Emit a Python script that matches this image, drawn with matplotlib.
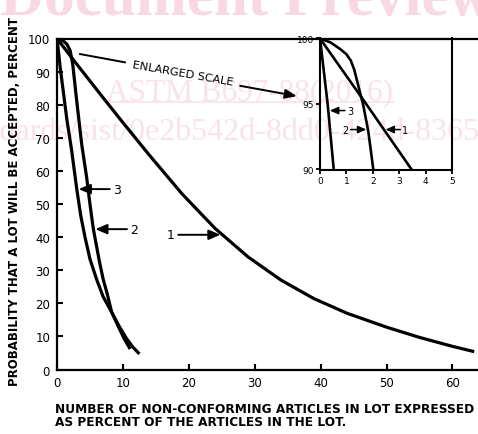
import numpy as np
import matplotlib
matplotlib.use("Agg")
import matplotlib.pyplot as plt
from matplotlib.lines import Line2D

# curves (main scale)
c1_x = [0, 2, 4, 7, 10, 14, 19, 24, 29, 34, 39, 44, 50, 55, 60, 63.3]
c1_y = [100, 94.8, 89.7, 82.1, 74.6, 64.8, 53.0, 42.6, 34.0, 27.0, 21.4, 17.0, 12.8, 9.7, 7.0, 5.4]

c2_x = [0, 0.8, 1.5, 2.0, 2.4, 3.0, 3.75, 4.5, 5.0, 5.5, 6.4, 7.0, 7.6, 8.3, 9.3, 10.2, 11.1]
c2_y = [100, 99.5, 98.3, 96.3, 92, 81, 68, 58, 50, 42.6, 33, 27.3, 23, 17.3, 13, 9.3, 6.2]

c3_x = [0, 0.5, 1.5, 2.2, 3.0, 3.6, 4.25, 5.0, 6.0, 7.0, 8.3, 9.5, 10.5, 11.5, 12.5]
c3_y = [100, 91, 75.5, 66.5, 54.5, 46.5, 40, 33.4, 27.3, 22, 17.3, 12.8, 9.5, 6.8, 4.7]

# same curves on the enlarged scale
e1_x = [0, 1.75, 3.47]
e1_y = [100, 95, 90]
e2_x = [0, 0.4, 0.76, 1.0, 1.17, 1.3, 1.45, 1.64, 1.83, 2.02]
e2_y = [100, 99.7, 99.2, 98.8, 98.3, 97.6, 96.4, 94.9, 92.9, 90.0]
e3_x = [0, 0.29, 0.52]
e3_y = [100, 95, 90]

curve_names = ["1", "2", "3"]
main_label_y = [40.7, 42.4, 54.5]
inset_label_y = [93.05, 93.05, 94.5]

main_xticks = [0, 10, 20, 30, 40, 50, 60]
main_yticks = [0, 10, 20, 30, 40, 50, 60, 70, 80, 90, 100]
inset_xticks = [0, 1, 2, 3, 4, 5]
inset_yticks = [90, 95, 100]

W, H = 478, 435
fig = plt.figure(figsize=(W / 100, H / 100), dpi=100)

# watermark (drawn behind everything)
pink_big = "#f8d9e2"
pink = "#fae2e9"
fig.text(0.0, 1 - 15 / H, "Document Preview", family="Liberation Serif",
         weight="bold", fontsize=44, color=pink_big, ha="left", va="baseline", zorder=-5)
fig.text(250 / W, 1 - 100 / H, "ASTM B697-88(2016)", family="Liberation Serif",
         fontsize=22.5, color=pink, ha="center", va="baseline", zorder=-5)
fig.add_artist(Line2D([108 / W, 393 / W], [1 - 103 / H, 1 - 103 / H], color=pink,
                      lw=1.2, zorder=-5))
fig.text(480 / W, 1 - 140 / H, "standards/sist/0e2b542d-8dd0-424d-8365",
         family="Liberation Serif", fontsize=23, color=pink, ha="right",
         va="baseline", zorder=-5)

# main axes
ax = fig.add_axes([57 / W, 1 - 370.5 / H, 1 - 57 / W + 0.01, (370.5 - 39.5) / H])
ax.set_facecolor("none")
ax.plot(c1_x, c1_y, color="k", lw=2.3, solid_capstyle="butt")
ax.plot(c2_x, c2_y, color="k", lw=2.3, solid_capstyle="butt")
ax.plot(c3_x, c3_y, color="k", lw=2.3, solid_capstyle="butt")
ax.set_xlim(0, (W - 57) / 6.59 + 0.01 * W / 6.59)
ax.set_ylim(0, 100)
ax.set_xticks(main_xticks)
ax.set_yticks(main_yticks)
ax.tick_params(direction="in", length=4, width=1.5, labelsize=8.5, pad=5)
ax.spines["right"].set_visible(False)
for s in ["left", "bottom", "top"]:
    ax.spines[s].set_linewidth(1.6)


def put_label(a, cx, cy, yv, name, side, length, gap, off, fs, hw, hl, lw):
    tip = np.interp(yv, cy[::-1], cx[::-1])
    if side == "right":
        tip = tip + off
        tail = tip + length
        tx, ha = tail + gap, "left"
    else:
        tip = tip - off
        tail = tip - length
        tx, ha = tail - gap, "right"
    a.annotate("", xy=(tip, yv), xytext=(tail, yv),
               arrowprops=dict(arrowstyle=f"-|>,head_length={hl},head_width={hw}",
                               color="k", lw=lw, shrinkA=0, shrinkB=0))
    a.text(tx, yv, name, ha=ha, va="center", fontsize=fs)


main_curves = [(c1_x, c1_y), (c2_x, c2_y), (c3_x, c3_y)]
main_side = ["left", "right", "right"]
main_len = [6.4, 4.8, 4.7]
for (cx, cy), yv, name, side, ln in zip(main_curves, main_label_y, curve_names,
                                        main_side, main_len):
    put_label(ax, np.array(cx), np.array(cy), yv, name, side, ln, 0.5, 0.3,
              9, 0.3, 0.7, 1.4)

# enlarged scale pointer
ax.plot([3.5, 10.3], [95.3, 92.8], color="k", lw=1.4)
ax.text(19.1, 89.6, "ENLARGED SCALE", rotation=-10, ha="center", va="center",
        fontsize=8.2, rotation_mode="anchor")
ax.annotate("", xy=(36.4, 82.6), xytext=(27.8, 85.7),
            arrowprops=dict(arrowstyle="-|>,head_length=0.7,head_width=0.28",
                            color="k", lw=1.4, shrinkA=0, shrinkB=0))

# inset axes
ins = fig.add_axes([320 / W, 1 - 170.5 / H, (452 - 320) / W, (170.5 - 39.5) / H])
ins.set_facecolor("none")
ins.plot(e1_x, e1_y, color="k", lw=1.9)
ins.plot(e2_x, e2_y, color="k", lw=1.9)
ins.plot(e3_x, e3_y, color="k", lw=1.9)
ins.set_xlim(0, 5)
ins.set_ylim(90, 100)
ins.set_xticks(inset_xticks)
ins.set_yticks(inset_yticks)
ins.tick_params(direction="out", length=3, width=1.3, labelsize=6.5, pad=1.5)
for s in ins.spines.values():
    s.set_linewidth(1.5)

inset_curves = [(e1_x, e1_y), (e2_x, e2_y), (e3_x, e3_y)]
inset_side = ["right", "left", "right"]
inset_len = [0.56, 0.6, 0.57]
for (cx, cy), yv, name, side, ln in zip(inset_curves, inset_label_y, curve_names,
                                        inset_side, inset_len):
    put_label(ins, np.array(cx), np.array(cy), yv, name, side, ln, 0.08, 0.06,
              7, 0.22, 0.5, 1.1)

fig.text(15 / W, 1 - 201 / H, "PROBABILITY THAT A LOT WILL BE ACCEPTED, PERCENT",
         rotation=90, ha="center", va="center", fontsize=8.5, weight="bold")
fig.text(55 / W, 1 - 403 / H,
         "NUMBER OF NON-CONFORMING ARTICLES IN LOT EXPRESSED\nAS PERCENT OF THE ARTICLES IN THE LOT.",
         ha="left", va="top", fontsize=8.7, weight="bold", linespacing=1.05)

fig.savefig("out.png", dpi=100)
